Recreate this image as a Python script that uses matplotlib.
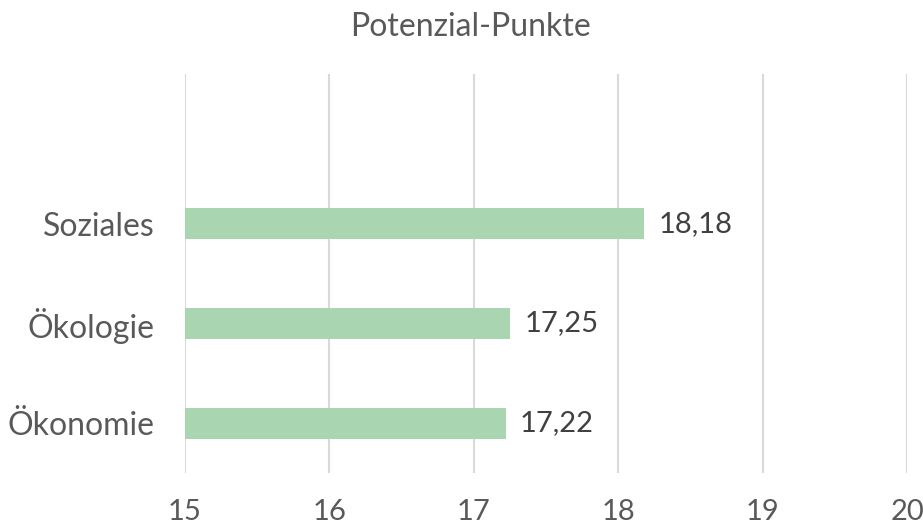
import matplotlib.pyplot as plt

categories = ['Ökonomie', 'Ökologie', 'Soziales', '']
values = [17.22, 17.25, 18.18, None]
labels = ['17,22', '17,25', '18,18', '']
ticks = [15, 16, 17, 18, 19, 20]

plt.rcParams['font.family'] = ['Lato', 'DejaVu Sans']

fig = plt.figure(figsize=(9.23, 5.3), dpi=100)
ax = fig.add_axes([0.2004, 0.1075, 0.7823, 0.7529])

pos = list(range(len(categories)))
for i in pos:
    if values[i] is None:
        continue
    ax.barh(i, values[i] - 15, left=15, height=0.31, color='#a9d5b0', zorder=3)
    ax.text(values[i] + 0.1, i, labels[i], va='center', ha='left',
            fontsize=21, color='#404040')

ax.set_xlim(15, 20)
ax.set_ylim(-0.5, len(categories) - 0.5)
ax.set_xticks(ticks)
ax.set_xticklabels([str(t) for t in ticks], fontsize=21, color='#595959')
ax.set_yticks(pos)
ax.set_yticklabels(categories, fontsize=23, color='#595959')
ax.tick_params(axis='both', length=0)
ax.tick_params(axis='x', pad=19)
ax.tick_params(axis='y', pad=22)
ax.grid(axis='x', color='#d9d9d9', linewidth=1.5, zorder=0)
for s in ax.spines.values():
    s.set_visible(False)

fig.text(0.51, 0.95, 'Potenzial-Punkte', ha='center', va='center',
         fontsize=23, color='#595959')

fig.savefig('out.png', dpi=100)
